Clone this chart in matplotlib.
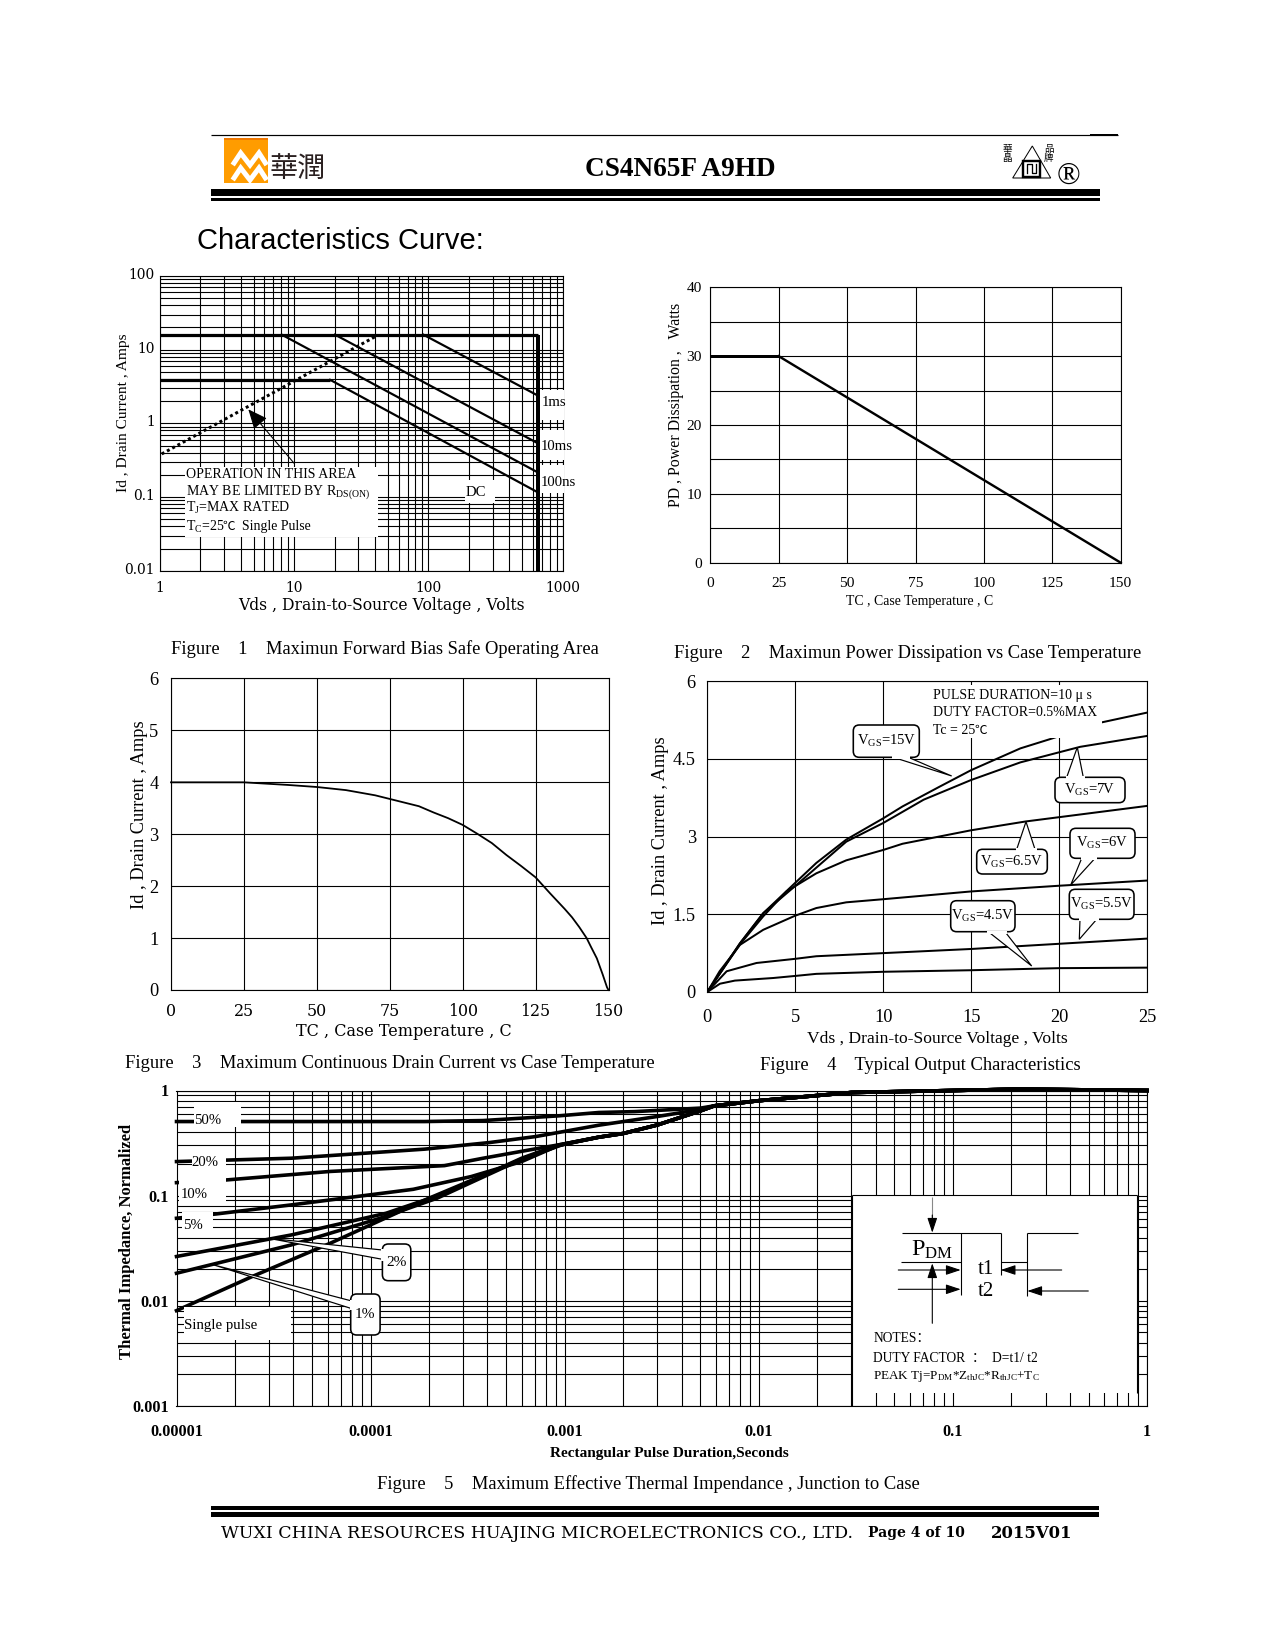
import numpy as np
import matplotlib
matplotlib.use("Agg")
import matplotlib.pyplot as plt
from matplotlib.patches import FancyBboxPatch, Polygon, Rectangle
from matplotlib.transforms import ScaledTranslation

plt.rcParams['font.family'] = ['Liberation Serif', 'Noto Sans CJK SC', 'DejaVu Sans']
plt.rcParams['mathtext.fontset'] = 'custom'
plt.rcParams['mathtext.rm'] = 'Liberation Serif'
plt.rcParams['mathtext.it'] = 'Liberation Serif'
plt.rcParams['mathtext.bf'] = 'Liberation Serif:bold'
plt.rcParams['mathtext.default'] = 'rm'

W, H = 1275, 1650
PX = 72 / 150  # one pixel in points

# figure 1, safe operating area
soa_top_v = [1, 650]
soa_top_i = [16, 16]
soa_limit_v = [650, 650]
soa_limit_i = [16, 0.01]
soa_dc_v = [1, 18.5, 640]
soa_dc_i = [3.9, 3.9, 0.118]
soa_100ns_v = [8.06, 640]
soa_100ns_i = [16, 0.22]
soa_10ms_v = [20.1, 640]
soa_10ms_i = [16, 0.547]
soa_1ms_v = [91.5, 640]
soa_1ms_i = [16, 2.43]
soa_rds_v = [1.03, 40]
soa_rds_i = [0.384, 15]
soa_x_ticks = [1, 10, 100, 1000]
soa_x_labels = ['1', '10', '100', '1000']
soa_y_ticks = [0.01, 0.1, 1, 10, 100]
soa_y_labels = ['0.01', '0.1', '1', '10', '100']

# figure 2, power dissipation
pd_tc = [0, 25, 150]
pd_w = [30, 30, 0]
pd_x_ticks = [0, 25, 50, 75, 100, 125, 150]
pd_y_grid = [0, 5, 10, 15, 20, 25, 30, 35, 40]
pd_y_labels = ['0', '', '10', '', '20', '', '30', '', '40']

# figure 3, drain current derating
id_tc = [0, 25, 40, 50, 60, 65, 70, 75, 80, 85, 90, 95, 100, 105, 110, 115, 120, 125, 130,
         135, 137.5, 140, 142.5, 144, 146, 148, 149.5, 150]
id_a = [4.0, 4.0, 3.95, 3.91, 3.85, 3.80, 3.75, 3.68, 3.61, 3.54, 3.42, 3.31, 3.18, 3.01,
        2.83, 2.60, 2.39, 2.17, 1.86, 1.56, 1.40, 1.21, 1.0, 0.83, 0.61, 0.30, 0.05, 0]
id_x_ticks = [0, 25, 50, 75, 100, 125, 150]
id_y_ticks = [0, 1, 2, 3, 4, 5, 6]

# figure 4, output characteristics
vgs15_v = [0, 1.86, 3.18, 4.98, 6.2, 7.9, 10, 11.1, 13.2, 15, 17.8, 19.5, 22.4, 25]
vgs15_i = [0, 0.94, 1.52, 2.10, 2.49, 2.94, 3.35, 3.58, 3.96, 4.28, 4.70, 4.88, 5.2, 5.39]
vgs7_v = [0, 1.86, 3.18, 4.98, 7.9, 10, 12.3, 15, 17.8, 21.2, 25]
vgs7_i = [0, 0.94, 1.52, 2.04, 2.9, 3.26, 3.71, 4.09, 4.43, 4.73, 4.94]
vgs65_v = [0, 1.86, 3.18, 4.5, 6.2, 7.9, 10, 11.1, 15, 18.1, 25]
vgs65_i = [0, 0.92, 1.46, 1.94, 2.29, 2.54, 2.74, 2.86, 3.12, 3.29, 3.59]
vgs6_v = [0, 0.7, 1.86, 3.18, 4.98, 6.2, 7.9, 10, 15, 20, 25]
vgs6_i = [0, 0.40, 0.91, 1.2, 1.47, 1.62, 1.73, 1.79, 1.94, 2.05, 2.15]
vgs55_v = [0, 1.1, 2.8, 5, 6.2, 10, 15, 20, 25]
vgs55_i = [0, 0.40, 0.56, 0.64, 0.69, 0.75, 0.83, 0.93, 1.03]
vgs45_v = [0, 0.72, 1.57, 3.75, 5, 6.2, 10, 15, 20, 25]
vgs45_i = [0, 0.16, 0.22, 0.27, 0.31, 0.35, 0.39, 0.42, 0.46, 0.47]
out_x_ticks = [0, 5, 10, 15, 20, 25]
out_y_ticks = [0, 1.5, 3, 4.5, 6]
out_y_labels = ['0', '1.5', '3', '4.5', '6']

# figure 5, thermal impedance
z_common_t = [5.9e-3, 0.01, 0.03, 0.1, 0.22, 1]
z_common = [0.715, 0.80, 0.957, 1.0, 1.03, 1.0]
z_low_t = [1.5e-3, 2e-3, 3e-3, 5e-3]
z_low = [0.36, 0.39, 0.47, 0.64]
z50_t = [1e-5, 1.9e-4, 3.8e-4, 9.3e-4, 1.5e-3, 2.3e-3, 5e-3]
z50 = [0.507, 0.507, 0.518, 0.574, 0.618, 0.63, 0.68]
z20_t = [1e-5, 3.9e-5, 1.9e-4, 4.1e-4, 7.1e-4, 1.5e-3, 3e-3, 5e-3]
z20 = [0.211, 0.227, 0.277, 0.32, 0.365, 0.468, 0.566, 0.66]
z10_t = [1e-5, 1.8e-5, 6.2e-5, 2.4e-4, 3.8e-4, 7.4e-4, 1e-3]
z10 = [0.133, 0.141, 0.17, 0.193, 0.227, 0.283, 0.311]
z5_t = [1e-5, 1.6e-5, 3.9e-5, 1.66e-4, 3.3e-4, 6e-4, 9.3e-4]
z5 = [0.061, 0.067, 0.0817, 0.115, 0.152, 0.211, 0.30]
z2_t = [1e-5, 3.9e-5, 1.2e-4, 2.4e-4, 6e-4, 9.3e-4]
z2 = [0.0264, 0.0423, 0.068, 0.105, 0.227, 0.304]
z1_t = [1e-5, 3.9e-5, 1.12e-4, 2.2e-4, 6e-4, 9.3e-4]
z1 = [0.0183, 0.034, 0.061, 0.0946, 0.222, 0.30]
zs_t = [1e-5, 2.45e-5, 6.2e-5, 2e-4, 6e-4, 1e-3]
zs = [0.00807, 0.017, 0.0353, 0.0946, 0.222, 0.311]
z_x_ticks = [1e-5, 1e-4, 1e-3, 1e-2, 1e-1, 1]
z_x_labels = ['0.00001', '0.0001', '0.001', '0.01', '0.1', '1']
z_y_ticks = [0.001, 0.01, 0.1, 1]
z_y_labels = ['0.001', '0.01', '0.1', '1']

CAPTION = 8.87


def make_axes(l, t, r, b):
    ax = fig.add_axes([l / W, 1 - b / H, (r - l) / W, (b - t) / H])
    for s in ax.spines.values():
        s.set_linewidth(PX * 1.1)
    ax.grid(True, which='both', color='black', linewidth=PX * 1.1)
    ax.set_axisbelow(True)
    ax.tick_params(which='both', length=0)
    return ax


def log_minor(lo, hi):
    return [m * 10.0 ** e for e in range(lo, hi) for m in range(2, 10)]


def label_ticks(ax, size, family=None, weight='normal', xpad=6, ypad=6):
    for lab in ax.get_xticklabels() + ax.get_yticklabels():
        lab.set_fontsize(size)
        lab.set_fontweight(weight)
        if family:
            lab.set_family(family)
    ax.tick_params(axis='x', which='major', pad=xpad)
    ax.tick_params(axis='y', which='major', pad=ypad)


def mask(x0, y0, x1, y1):
    page.add_patch(Rectangle((x0, y0), x1 - x0, y1 - y0, fc='white', ec='none', zorder=2))


def txt(x, y, s, size, ha='left', weight='normal', family=None, rot=0, z=5, **kw):
    if family:
        kw['family'] = family
    return page.text(x, y, s, fontsize=size, ha=ha, va='center', fontweight=weight,
                     rotation=rot, zorder=z, color='black', **kw)


def seg(x0, y0, x1, y1, lw=1.1, color='black'):
    page.plot([x0, x1], [y0, y1], color=color, lw=lw * PX, zorder=4, solid_capstyle='butt')


def arrow(x0, y0, x1, y1):
    page.annotate('', xy=(x1, y1), xytext=(x0, y0), zorder=4,
                  arrowprops=dict(arrowstyle='-|>,head_length=0.6,head_width=0.2', color='black',
                                  lw=PX * 1.1, shrinkA=0, shrinkB=0, mutation_scale=10))


def callout(x0, y0, x1, y1, tip, b0, b1, label, size=7.0):
    page.add_patch(FancyBboxPatch((x0 + 4, y0 + 4), x1 - x0 - 8, y1 - y0 - 8,
                                  boxstyle='round,pad=4,rounding_size=6', fc='white', ec='black',
                                  lw=PX * 1.6, zorder=3))
    page.add_patch(Polygon([b0, tip, b1], closed=False, fc='white', ec='black', lw=PX * 1.2, zorder=3.1))
    page.plot([b0[0], b1[0]], [b0[1], b1[1]], color='white', lw=PX * 3, zorder=3.2)
    txt((x0 + x1) / 2, (y0 + y1) / 2, label, size, ha='center')


fig = plt.figure(figsize=(W / 150, H / 150), dpi=150)

# page layer in pixel coordinates, sits above the charts
page = fig.add_axes([0, 0, 1, 1], zorder=10)
page.set_xlim(0, W)
page.set_ylim(H, 0)
page.axis('off')
page.patch.set_alpha(0)

# ---- figure 1
ax1 = make_axes(160, 276, 562.7, 570.7)
ax1.set_xscale('log')
ax1.set_yscale('log')
ax1.set_xlim(1, 1000)
ax1.set_ylim(0.01, 100)
ax1.set_xticks(soa_x_ticks, soa_x_labels)
ax1.set_yticks(soa_y_ticks, soa_y_labels)
ax1.set_xticks(log_minor(0, 3), minor=True)
ax1.set_yticks(log_minor(-2, 2), minor=True)
ax1.tick_params(which='minor', labelbottom=False, labelleft=False)
label_ticks(ax1, 6.6, family='DejaVu Serif', xpad=5, ypad=2.5)
# the y labels sit a little above their lines in the original
for lab in ax1.get_yticklabels():
    lab.set_transform(lab.get_transform() + ScaledTranslation(0, 2.5 / 150, fig.dpi_scale_trans))
ax1.plot(soa_top_v, soa_top_i, color='black', lw=PX * 3.2, solid_capstyle='butt', clip_on=False)
ax1.plot(soa_dc_v[:2], soa_dc_i[:2], color='black', lw=PX * 3.2, solid_capstyle='butt', clip_on=False)
ax1.plot(soa_dc_v[1:], soa_dc_i[1:], color='black', lw=PX * 2.2)
ax1.plot(soa_limit_v, soa_limit_i, color='black', lw=PX * 4, solid_capstyle='butt')
ax1.plot(soa_100ns_v, soa_100ns_i, color='black', lw=PX * 2.2)
ax1.plot(soa_10ms_v, soa_10ms_i, color='black', lw=PX * 2.2)
ax1.plot(soa_1ms_v, soa_1ms_i, color='black', lw=PX * 2.2)
ax1.plot(soa_rds_v, soa_rds_i, color='black', lw=PX * 3, linestyle=(0, (1, 1)))
ax1.annotate('', xy=(4.55, 1.55), xytext=(10, 0.286),
             arrowprops=dict(arrowstyle='-|>,head_length=0.8,head_width=0.35', color='black',
                             lw=PX * 1.1, shrinkA=0, shrinkB=0, mutation_scale=10))
mask(185, 466.7, 378.3, 536.7)
mask(465, 480, 495, 503)
mask(539.5, 390, 564, 420)
mask(539.5, 430, 564, 460)
mask(539.5, 465, 564, 493)
txt(186, 474, 'OPERATION IN THIS AREA', 6.7)
txt(186, 491.7, 'MAY BE LIMITED BY R$_{DS(ON)}$', 6.7)
txt(186, 508, 'T$_{J}$=MAX RATED', 6.7)
txt(186, 526.7, 'T$_{C}$=25', 6.7)
txt(222, 526.7, '℃', 6.0)
txt(242, 526.7, 'Single Pulse', 6.6)
txt(466, 492, 'DC', 7.1)
txt(541.7, 402.7, '1ms', 7.1)
txt(540.7, 446.7, '10ms', 7.1)
txt(541, 482.3, '100ns', 7.1)
txt(381.7, 605.5, 'Vds , Drain-to-Source Voltage , Volts', 7.5, ha='center', family='DejaVu Serif')
txt(123, 413, 'Id , Drain Current , Amps', 7.4, ha='center', rot=90)
txt(171, 649, 'Figure    1    Maximun Forward Bias Safe Operating Area', CAPTION)

# ---- figure 2
ax2 = make_axes(710.3, 287.3, 1120.7, 562.7)
ax2.set_xlim(0, 150)
ax2.set_ylim(0, 40)
ax2.set_xticks(pd_x_ticks, [str(v) for v in pd_x_ticks])
ax2.set_yticks(pd_y_grid, pd_y_labels)
label_ticks(ax2, 7.4, xpad=7, ypad=4)
ax2.plot(pd_tc[:2], pd_w[:2], color='black', lw=PX * 3, solid_capstyle='butt')
ax2.plot(pd_tc[1:], pd_w[1:], color='black', lw=PX * 2.4, clip_on=False)
txt(920, 601.5, 'TC , Case Temperature , C', 6.6, ha='center')
txt(675.5, 405, 'PD , Power Dissipation ,   Watts', 7.6, ha='center', rot=90)
txt(674, 653.5, 'Figure    2    Maximun Power Dissipation vs Case Temperature', CAPTION)

# ---- figure 3
ax3 = make_axes(171, 678.5, 608.5, 990)
ax3.set_xlim(0, 150)
ax3.set_ylim(0, 6)
ax3.set_xticks(id_x_ticks, [str(v) for v in id_x_ticks])
ax3.set_yticks(id_y_ticks, [str(v) for v in id_y_ticks])
label_ticks(ax3, 8.8, xpad=6, ypad=6)
for lab in ax3.get_xticklabels():
    lab.set_family('DejaVu Serif')
    lab.set_fontsize(7.6)
ax3.plot(id_tc, id_a, color='black', lw=PX * 1.8, clip_on=False)
txt(404, 1032, 'TC , Case Temperature , C', 7.7, ha='center', family='DejaVu Serif')
txt(139, 815, 'Id , Drain Current , Amps', 8.8, ha='center', rot=90)
txt(125, 1064, 'Figure    3    Maximum Continuous Drain Current vs Case Temperature', CAPTION)

# ---- figure 4
ax4 = make_axes(707.3, 681, 1147, 992)
ax4.set_xlim(0, 25)
ax4.set_ylim(0, 6)
ax4.set_xticks(out_x_ticks, [str(v) for v in out_x_ticks])
ax4.set_yticks(out_y_ticks, out_y_labels)
label_ticks(ax4, 8.8, xpad=8, ypad=5.5)
for v, i in [(vgs15_v, vgs15_i), (vgs7_v, vgs7_i), (vgs65_v, vgs65_i), (vgs6_v, vgs6_i),
             (vgs55_v, vgs55_i), (vgs45_v, vgs45_i)]:
    ax4.plot(v, i, color='black', lw=PX * 2.0)
mask(930, 685, 1101.7, 738)
txt(932.7, 695, 'PULSE DURATION=10 μ s', 6.65)
txt(932.7, 712, 'DUTY FACTOR=0.5%MAX', 6.65)
txt(932.7, 731, 'Tc = 25', 6.65)
txt(974, 731, '℃', 6.0)
callout(853.3, 725, 919.3, 757.3, (951.7, 776), (893.3, 757.3), (908.3, 757.3), 'V$_{GS}$=15V')
callout(1055, 777.3, 1125, 802.7, (1077.3, 747.3), (1066.7, 777.3), (1083.3, 777.3), 'V$_{GS}$=7V')
callout(976.7, 849.3, 1047.3, 874, (1026, 821.7), (1016.7, 849.3), (1035, 849.3), 'V$_{GS}$=6.5V')
callout(1070, 828.3, 1135, 858.3, (1070.7, 885), (1081.7, 858.3), (1095, 858.3), 'V$_{GS}$=6V')
callout(1069.3, 889.3, 1134, 919.3, (1079.3, 939.3), (1080, 919.3), (1096.7, 919.3), 'V$_{GS}$=5.5V')
callout(950.7, 900.7, 1015, 931.7, (1031.7, 966), (988.3, 931.7), (1005, 931.7), 'V$_{GS}$=4.5V')
txt(937.6, 1039, 'Vds , Drain-to-Source Voltage , Volts', 8.4, ha='center')
txt(660.5, 831, 'Id , Drain Current , Amps', 8.8, ha='center', rot=90)
txt(759.5, 1065.5, 'Figure    4    Typical Output Characteristics', CAPTION)

# ---- figure 5
ax5 = make_axes(176.5, 1090.5, 1147, 1406)
ax5.set_xscale('log')
ax5.set_yscale('log')
ax5.set_xlim(1e-5, 1)
ax5.set_ylim(0.001, 1)
ax5.set_xticks(z_x_ticks, z_x_labels)
ax5.set_yticks(z_y_ticks, z_y_labels)
ax5.set_xticks(log_minor(-5, 0), minor=True)
ax5.set_yticks(log_minor(-3, 0), minor=True)
ax5.tick_params(which='minor', labelbottom=False, labelleft=False)
label_ticks(ax5, 7.8, weight='bold', xpad=8.5, ypad=3.5)
for t, z in [(z50_t, z50), (z20_t, z20)]:
    ax5.plot(list(t) + z_common_t, list(z) + z_common, color='black', lw=PX * 3.6, clip_on=False)
for t, z in [(z10_t, z10), (z5_t, z5), (z2_t, z2), (z1_t, z1), (zs_t, zs)]:
    ax5.plot(list(t) + z_low_t + z_common_t, list(z) + z_low + z_common, color='black', lw=PX * 3.6,
             clip_on=False)
mask(193.8, 1101.7, 240.8, 1127)
mask(191.8, 1153, 225.5, 1174)
mask(178.5, 1178, 225.5, 1205)
mask(182.3, 1211.7, 212.9, 1233)
mask(184.2, 1307, 291.4, 1340)
txt(194, 1120.5, '50%', 7.1)
txt(191.8, 1162.5, '20%', 7.1)
txt(180.4, 1194, '10%', 7.1)
txt(183.4, 1225.5, '5%', 7.1)
txt(184.2, 1326, 'Single pulse', 7.1)
callout(382.4, 1244, 410.8, 1280.7, (268.4, 1238.3), (382.4, 1250), (382.4, 1259.3), '2%', size=7.4)
callout(350.7, 1294, 380.1, 1335, (214, 1265), (350.7, 1300.7), (350.7, 1308.3), '1%', size=7.4)
txt(669, 1454, 'Rectangular Pulse Duration,Seconds', 7.3, ha='center', weight='bold')
txt(127, 1241, 'Thermal Impedance, Normalized', 8.0, ha='center', weight='bold', rot=90)
txt(376.6, 1484, 'Figure    5    Maximum Effective Thermal Impendance , Junction to Case', CAPTION)

# waveform inset on figure 5
mask(852.3, 1195.5, 1136.6, 1393)
seg(851.8, 1195.3, 1137, 1195.3)
seg(851.8, 1195.3, 851.8, 1406)
seg(1137, 1195.3, 1137, 1393)
seg(932.3, 1196.7, 932.3, 1222, color='#888888')
arrow(932.3, 1215, 932.3, 1232.7)
seg(902.3, 1233.3, 1000.7, 1233.3)
seg(960.7, 1233.3, 960.7, 1295)
seg(1000.7, 1233.3, 1000.7, 1275)
seg(1000.7, 1262.3, 1027.3, 1262.3)
seg(1027.3, 1233.3, 1027.3, 1295.7)
seg(1027.3, 1233.3, 1077.7, 1233.3)
seg(901, 1262.3, 960.7, 1262.3)
arrow(932.3, 1323.3, 932.3, 1263.3)
arrow(898.3, 1270, 960.7, 1270)
arrow(898.3, 1289.3, 960.7, 1289.3)
arrow(1061.7, 1270, 1000.7, 1270)
arrow(1088.3, 1291, 1027.3, 1291)
txt(911, 1250, 'P$_{DM}$', 11.5)
txt(978, 1269, 't1', 10)
txt(978, 1291, 't2', 10)
txt(873.3, 1338.8, 'NOTES：', 6.5)
txt(873.3, 1358, 'DUTY FACTOR  ：  D=t1/ t2', 6.5)
txt(873.3, 1376, 'PEAK Tj=P$_{DM}$*Z$_{thJC}$*R$_{thJC}$+T$_{C}$', 6.3)

# ---- header and footer
seg(210.5, 134.7, 1118, 134.7, lw=1.2)
seg(1090, 134.7, 1118, 134.7, lw=2)
page.add_patch(Rectangle((211, 189), 889, 7, fc='black', ec='none'))
page.add_patch(Rectangle((211, 198), 889, 3.3, fc='black', ec='none'))
page.add_patch(Rectangle((211, 1506), 888, 3.5, fc='black', ec='none'))
page.add_patch(Rectangle((211, 1512), 888, 4.7, fc='black', ec='none'))

page.add_patch(Rectangle((224, 138), 43.7, 44.7, fc='#FF9C00', ec='none'))
page.add_patch(Rectangle((224, 138), 43.7, 2, fc='#F07800', ec='none'))
for base, peak in [(165, 153), (180, 168)]:
    page.plot([232.7, 240.7, 250, 259, 266.7], [base, peak, base, peak, base], color='white',
              lw=PX * 5, solid_joinstyle='miter', solid_capstyle='butt')
page.text(298, 169, '華潤', fontsize=13.5, ha='center', va='center', family=['Noto Sans CJK TC'],
          color='#2a2020')

txt(680, 170, 'CS4N65F A9HD', 13.1, ha='center', weight='bold')
txt(197, 241, 'Characteristics Curve:', 14, family=['Liberation Sans'])

# certification mark
page.add_patch(Polygon([(1032.3, 146), (1012.7, 178), (1050.7, 178)], closed=True, fc='white', ec='black',
                       lw=PX * 1.0))
page.add_patch(Rectangle((1023, 161), 17, 15.5, fc='none', ec='black', lw=PX * 2.4))
page.plot([1027, 1027, 1031.5, 1031.5, 1036, 1036], [173, 164, 164, 173, 173, 164], color='black', lw=PX * 1.3)
page.text(1007, 154, '華\n晶', fontsize=4.6, ha='center', va='center', family=['Noto Sans CJK TC'], linespacing=1.0)
page.text(1049, 154, '品\n牌', fontsize=4.6, ha='center', va='center', family=['Noto Sans CJK TC'], linespacing=1.0)
txt(1068, 176.5, '®', 15, ha='center')

txt(221, 1533, 'WUXI CHINA RESOURCES HUAJING MICROELECTRONICS CO., LTD.', 8.33, family='DejaVu Serif')
txt(868, 1533, 'Page 4 of 10', 6.7, family='DejaVu Serif', weight='bold')
txt(991, 1533, '2015V01', 7.9, family='DejaVu Serif', weight='bold')

fig.savefig('out.png', dpi=150)
